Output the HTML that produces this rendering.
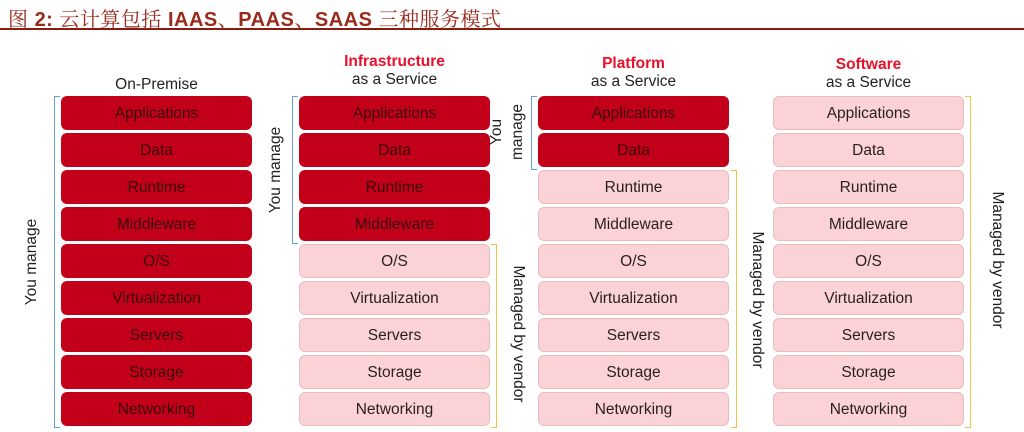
<!DOCTYPE html>
<html><head><meta charset="utf-8"><style>
body{margin:0;width:1024px;height:432px;background:#fff;position:relative;overflow:hidden;font-family:"Liberation Sans","DejaVu Sans",sans-serif}
.t{position:absolute;left:8px;top:3px;font-size:20px;color:#9a2a1c;font-family:"Liberation Sans","Noto Serif CJK SC",sans-serif;white-space:nowrap;letter-spacing:0.5px}
.t b{font-weight:bold}
.line{position:absolute;left:0;top:28px;width:1024px;height:2px;background:#8b1a10}
.b{position:absolute;width:191px;height:34px;border-radius:6px;text-align:center;line-height:34px;font-size:15.5px;color:#2a2020;box-sizing:border-box}
.d{background:#c3001a;color:#3a0a0a;line-height:35px}
.p{background:#fbd3d6;border:1px solid #e6bcc0}
.h{position:absolute;text-align:center;width:191px;font-size:15.5px;color:#222}
.r{color:#e8102a;font-weight:bold}
.bl{position:absolute;border:1.5px solid #6a9fd0;border-right:none;width:5px}
.yl{position:absolute;border:1.5px solid #f2c14a;border-left:none;width:5px}
.v{position:absolute;font-size:15.5px;color:#222;white-space:nowrap}
</style></head><body>
<div class="t">图 <b>2:</b> 云计算包括 <b>IAAS</b>、<b>PAAS</b>、<b>SAAS</b> 三种服务模式</div>
<div class="line"></div>

<div class="h" style="left:61px;top:76px">On-Premise</div>
<div class="h" style="left:299px;top:53px"><span class="r">Infrastructure</span><br>as a Service</div>
<div class="h" style="left:538px;top:55px"><span class="r">Platform</span><br>as a Service</div>
<div class="h" style="left:773px;top:56px"><span class="r">Software</span><br>as a Service</div>

<div class="b d" style="left:61px;top:96px">Applications</div>
<div class="b d" style="left:61px;top:133px">Data</div>
<div class="b d" style="left:61px;top:170px">Runtime</div>
<div class="b d" style="left:61px;top:207px">Middleware</div>
<div class="b d" style="left:61px;top:244px">O/S</div>
<div class="b d" style="left:61px;top:281px">Virtualization</div>
<div class="b d" style="left:61px;top:318px">Servers</div>
<div class="b d" style="left:61px;top:355px">Storage</div>
<div class="b d" style="left:61px;top:392px">Networking</div>

<div class="b d" style="left:299px;top:96px">Applications</div>
<div class="b d" style="left:299px;top:133px">Data</div>
<div class="b d" style="left:299px;top:170px">Runtime</div>
<div class="b d" style="left:299px;top:207px">Middleware</div>
<div class="b p" style="left:299px;top:244px">O/S</div>
<div class="b p" style="left:299px;top:281px">Virtualization</div>
<div class="b p" style="left:299px;top:318px">Servers</div>
<div class="b p" style="left:299px;top:355px">Storage</div>
<div class="b p" style="left:299px;top:392px">Networking</div>

<div class="b d" style="left:538px;top:96px">Applications</div>
<div class="b d" style="left:538px;top:133px">Data</div>
<div class="b p" style="left:538px;top:170px">Runtime</div>
<div class="b p" style="left:538px;top:207px">Middleware</div>
<div class="b p" style="left:538px;top:244px">O/S</div>
<div class="b p" style="left:538px;top:281px">Virtualization</div>
<div class="b p" style="left:538px;top:318px">Servers</div>
<div class="b p" style="left:538px;top:355px">Storage</div>
<div class="b p" style="left:538px;top:392px">Networking</div>

<div class="b p" style="left:773px;top:96px">Applications</div>
<div class="b p" style="left:773px;top:133px">Data</div>
<div class="b p" style="left:773px;top:170px">Runtime</div>
<div class="b p" style="left:773px;top:207px">Middleware</div>
<div class="b p" style="left:773px;top:244px">O/S</div>
<div class="b p" style="left:773px;top:281px">Virtualization</div>
<div class="b p" style="left:773px;top:318px">Servers</div>
<div class="b p" style="left:773px;top:355px">Storage</div>
<div class="b p" style="left:773px;top:392px">Networking</div>

<div class="bl" style="left:54px;top:96px;height:330px"></div>
<div class="v" style="left:32px;top:262px;transform:translate(-50%,-50%) rotate(-90deg)">You manage</div>

<div class="bl" style="left:292px;top:96px;height:146px"></div>
<div class="v" style="left:276px;top:170px;transform:translate(-50%,-50%) rotate(-90deg)">You manage</div>
<div class="yl" style="left:491px;top:244px;height:182px"></div>
<div class="v" style="left:518px;top:334px;transform:translate(-50%,-50%) rotate(90deg)">Managed by vendor</div>

<div class="bl" style="left:531px;top:96px;height:72px"></div>
<div class="v" style="left:497px;top:132px;transform:translate(-50%,-50%) rotate(-90deg)">You</div>
<div class="v" style="left:518px;top:132px;transform:translate(-50%,-50%) rotate(-90deg)">manage</div>
<div class="yl" style="left:731px;top:170px;height:256px"></div>
<div class="v" style="left:757px;top:300px;transform:translate(-50%,-50%) rotate(90deg)">Managed by vendor</div>

<div class="yl" style="left:965px;top:96px;height:330px"></div>
<div class="v" style="left:997px;top:260px;transform:translate(-50%,-50%) rotate(90deg)">Managed by vendor</div>
</body></html>
